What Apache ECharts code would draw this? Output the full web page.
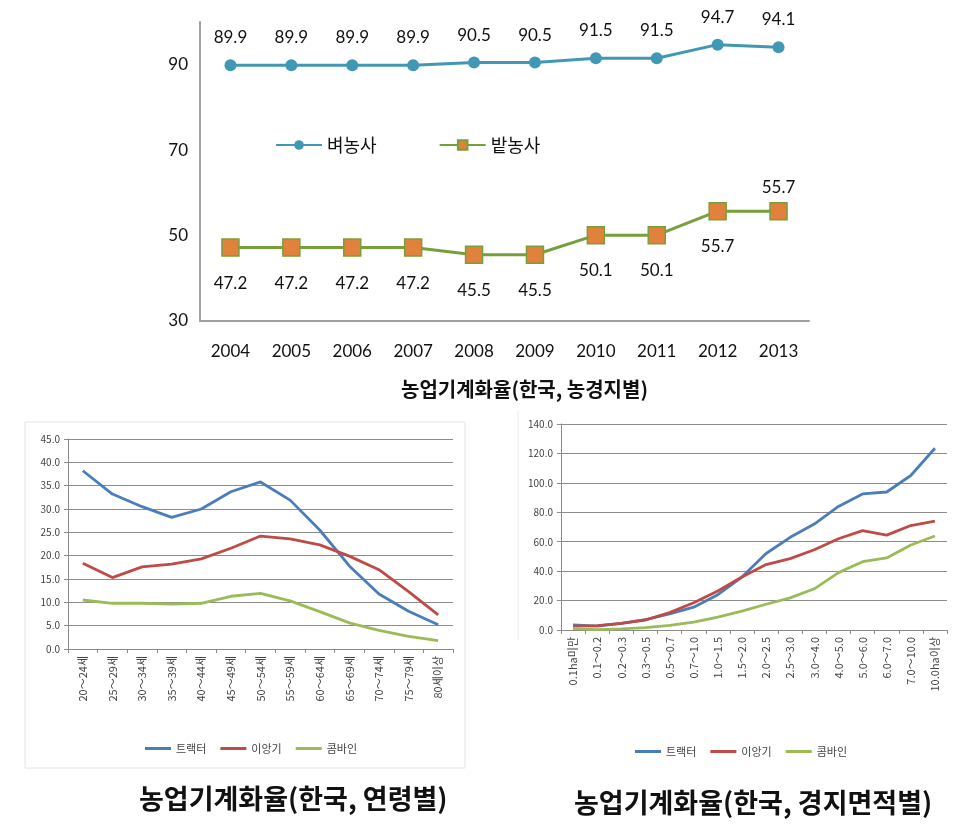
<!DOCTYPE html>
<html><head><meta charset="utf-8">
<script src="https://cdn.jsdelivr.net/npm/echarts@6/dist/echarts.min.js"></script>
<style>html,body{margin:0;padding:0;background:#fff}#c{width:974px;height:825px}</style>
</head><body><div id="c"></div>
<script>
const years = ['2004','2005','2006','2007','2008','2009','2010','2011','2012','2013'];
const riceFarm = [89.9,89.9,89.9,89.9,90.5,90.5,91.5,91.5,94.7,94.1];
const fieldFarm = [47.2,47.2,47.2,47.2,45.5,45.5,50.1,50.1,55.7,55.7];

const ageGroups = ['20～24세','25～29세','30～34세','35～39세','40～44세','45～49세','50～54세','55～59세','60～64세','65～69세','70～74세','75～79세','80세이상'];
const ageTractor = [38.2,33.2,30.5,28.2,30.0,33.7,35.8,31.9,25.5,17.8,11.8,8.1,5.2];
const ageTransplanter = [18.4,15.3,17.6,18.2,19.3,21.6,24.2,23.6,22.3,19.9,17.0,12.3,7.3];
const ageCombine = [10.5,9.8,9.8,9.6,9.8,11.3,11.9,10.3,8.0,5.6,4.0,2.7,1.8];

const areaGroups = ['0.1ha미만','0.1～0.2','0.2～0.3','0.3～0.5','0.5～0.7','0.7～1.0','1.0～1.5','1.5～2.0','2.0～2.5','2.5～3.0','3.0～4.0','4.0～5.0','5.0～6.0','6.0～7.0','7.0～10.0','10.0ha이상'];
const areaTractor = [3.4,2.7,4.5,7.0,11.0,15.5,24.0,36.0,52.0,63.0,72.0,84.0,92.5,93.8,105.0,123.5];
const areaTransplanter = [2.6,3.0,4.5,6.8,11.8,18.5,26.5,36.0,44.5,48.5,54.5,62.0,67.5,64.5,71.0,74.0];
const areaCombine = [1.0,0.3,0.7,1.6,3.2,5.4,8.8,12.8,17.5,21.8,28.0,39.0,46.4,49.0,57.8,63.9];

const topTitle = '농업기계화율(한국, 농경지별)';
const ageTitle = '농업기계화율(한국, 연령별)';
const areaTitle = '농업기계화율(한국, 경지면적별)';

const KR = '"Noto Sans CJK KR", "Noto Sans", sans-serif';
const NUM = 'Lato, "Noto Sans", sans-serif';
const cBlue = '#4a7ebb', cRed = '#be4b48', cGreen = '#9bbb59';

const chart = echarts.init(document.getElementById('c'), null, {renderer:'canvas'});

const fieldData = fieldFarm.map((v,i)=> i===fieldFarm.length-1 ? {value:v,label:{position:'top',distance:6}} : v);

const smallAxisLabel = {color:'#444', fontSize:11, fontFamily:KR};

chart.setOption({
  animation:false,
  title:[
    {text:topTitle, left:396, top:374, textStyle:{fontFamily:KR, fontSize:20, fontWeight:'bold', color:'#111'}},
    {text:ageTitle, left:134, top:780, textStyle:{fontFamily:KR, fontSize:27, fontWeight:'bold', color:'#111'}},
    {text:areaTitle, left:569, top:784, textStyle:{fontFamily:KR, fontSize:27, fontWeight:'bold', color:'#111'}}
  ],
  legend:[
    {data:['벼농사','밭농사'], left:270, top:131, itemWidth:46, itemHeight:12, itemGap:62,
     textStyle:{fontFamily:KR, fontSize:18, color:'#111'}},
    {data:['트랙터','이앙기','콤바인'], left:140, top:738, itemWidth:26, itemHeight:3, itemGap:14, icon:'rect',
     textStyle:{fontFamily:KR, fontSize:11, color:'#444'}},
    {data:['트랙터','이앙기','콤바인'], left:630, top:741, itemWidth:26, itemHeight:3, itemGap:14, icon:'rect',
     textStyle:{fontFamily:KR, fontSize:11, color:'#444'}}
  ],
  graphic:[
    {type:'rect', shape:{x:25, y:422, width:440, height:346}, style:{fill:'none', stroke:'#e4e4e4', lineWidth:1}, z:-1},
    {type:'line', shape:{x1:518, y1:410, x2:518, y2:640}, style:{stroke:'#ececec', lineWidth:1}, z:-1}
  ],
  grid:[
    {left:200, top:22, width:609, height:299},
    {left:68, top:439, width:385, height:210},
    {left:561, top:424, width:386, height:206}
  ],
  xAxis:[
    {type:'category', gridIndex:0, data:years, boundaryGap:true,
     axisLine:{lineStyle:{color:'#a0a0a0', width:2}}, axisTick:{show:false},
     axisLabel:{color:'#111', fontSize:17, fontFamily:NUM, margin:22}},
    {type:'category', gridIndex:1, data:ageGroups, boundaryGap:true,
     axisLine:{lineStyle:{color:'#8a8a8a'}}, axisTick:{show:true, length:4, lineStyle:{color:'#8a8a8a'}},
     axisLabel:Object.assign({rotate:90, margin:7, interval:0}, smallAxisLabel)},
    {type:'category', gridIndex:2, data:areaGroups, boundaryGap:true,
     axisLine:{lineStyle:{color:'#8a8a8a'}}, axisTick:{show:true, length:4, lineStyle:{color:'#8a8a8a'}},
     axisLabel:Object.assign({rotate:90, margin:7, interval:0}, smallAxisLabel)}
  ],
  yAxis:[
    {type:'value', gridIndex:0, min:30, max:100, interval:20,
     axisLine:{show:true, lineStyle:{color:'#a0a0a0', width:2}}, axisTick:{show:false}, splitLine:{show:false},
     axisLabel:{color:'#111', fontSize:17, fontFamily:NUM, margin:12, showMaxLabel:false}},
    {type:'value', gridIndex:1, min:0, max:45, interval:5,
     axisLine:{show:true, lineStyle:{color:'#8a8a8a'}}, axisTick:{show:true, length:4, lineStyle:{color:'#8a8a8a'}},
     splitLine:{lineStyle:{color:'#8c8c8c', width:1.2}},
     axisLabel:Object.assign({formatter:v=>v.toFixed(1), margin:8}, smallAxisLabel, {fontSize:10})},
    {type:'value', gridIndex:2, min:0, max:140, interval:20,
     axisLine:{show:true, lineStyle:{color:'#8a8a8a'}}, axisTick:{show:true, length:4, lineStyle:{color:'#8a8a8a'}},
     splitLine:{lineStyle:{color:'#8c8c8c', width:1.2}},
     axisLabel:Object.assign({formatter:v=>v.toFixed(1), margin:8}, smallAxisLabel, {fontSize:10})}
  ],
  series:[
    {name:'벼농사', type:'line', xAxisIndex:0, yAxisIndex:0, data:riceFarm,
     symbol:'circle', symbolSize:12, color:'#4198b5',
     lineStyle:{width:3, color:'#4198b5'}, itemStyle:{color:'#4198b5'},
     label:{show:true, position:'top', distance:13, color:'#111', fontSize:17, fontFamily:NUM}},
    {name:'밭농사', type:'line', xAxisIndex:0, yAxisIndex:0, data:fieldData,
     symbol:'rect', symbolSize:17, color:'#77a03c',
     lineStyle:{width:3, color:'#77a03c'}, itemStyle:{color:'#e0823c', borderColor:'#77a03c', borderWidth:1.5},
     label:{show:true, position:'bottom', distance:18, color:'#111', fontSize:17, fontFamily:NUM}},

    {name:'트랙터', type:'line', xAxisIndex:1, yAxisIndex:1, data:ageTractor, showSymbol:false, color:cBlue, lineStyle:{width:2.8}},
    {name:'이앙기', type:'line', xAxisIndex:1, yAxisIndex:1, data:ageTransplanter, showSymbol:false, color:cRed, lineStyle:{width:2.8}},
    {name:'콤바인', type:'line', xAxisIndex:1, yAxisIndex:1, data:ageCombine, showSymbol:false, color:cGreen, lineStyle:{width:2.8}},

    {name:'트랙터', type:'line', xAxisIndex:2, yAxisIndex:2, data:areaTractor, showSymbol:false, color:cBlue, lineStyle:{width:2.8}},
    {name:'이앙기', type:'line', xAxisIndex:2, yAxisIndex:2, data:areaTransplanter, showSymbol:false, color:cRed, lineStyle:{width:2.8}},
    {name:'콤바인', type:'line', xAxisIndex:2, yAxisIndex:2, data:areaCombine, showSymbol:false, color:cGreen, lineStyle:{width:2.8}}
  ]
});
</script></body></html>
